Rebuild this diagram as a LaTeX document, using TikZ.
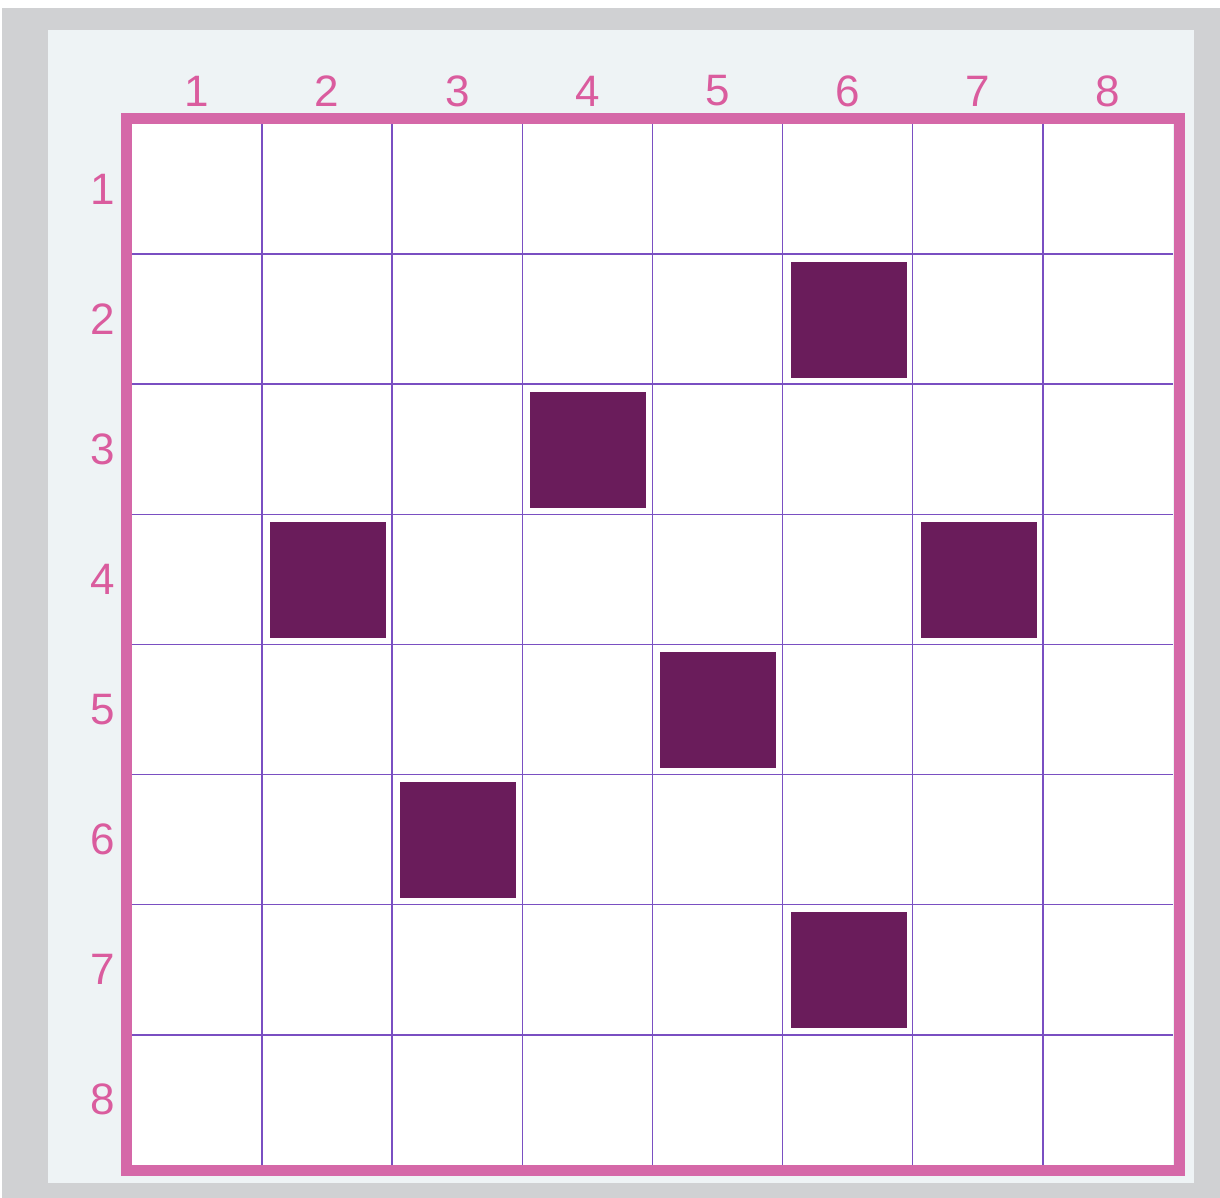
\documentclass[tikz,border=0pt]{standalone}
\usepackage{fontspec}
\setmainfont{Liberation Sans}
\definecolor{canvasgray}{HTML}{D0D1D3}
\definecolor{panelbg}{HTML}{EEF3F5}
\definecolor{framepink}{HTML}{D568A8}
\definecolor{gridpurple}{HTML}{7A4FC2}
\definecolor{labelpink}{HTML}{DA5C9E}
\definecolor{queen}{HTML}{6A1C5B}
\tikzset{
  lbl/.style={text=labelpink, font=\fontsize{44}{48}\selectfont, inner sep=0pt, anchor=center},
  gridline/.style={draw=gridpurple, line width=1.6pt},
  frame/.style={draw=framepink, line width=11pt},
  piece/.style={fill=queen, draw=none, minimum width=116pt, minimum height=116pt, inner sep=0pt, outer sep=0pt}
}
\begin{document}
\begin{tikzpicture}[x=1pt,y=-1pt]
  % canvas
  \fill[white] (0,0) rectangle (1220,1198);
  \useasboundingbox (0,0) rectangle (1220,1198);
  \fill[canvasgray] (2,8) rectangle (1220,1198);
  \fill[panelbg] (48,30) rectangle (1194,1183);
  % board
  \fill[white] (132,124) rectangle (1173,1165);
  \foreach \i in {1,...,7} {
    \draw[gridline] ({132+\i*130.1},124) -- ({132+\i*130.1},1165);
    \draw[gridline] (132,{124+\i*130.1}) -- (1173,{124+\i*130.1});
  }
  \draw[frame] (126.5,118.5) rectangle (1179.5,1170.5);
  % labels
  \foreach \i in {1,...,8} {
    \node[lbl] (col\i) at ({132+(\i-0.5)*130.1},91) {\i};
    \node[lbl] (row\i) at (103,{124+(\i-0.5)*130.1}) {\i};
  }
  % pieces: (column,row)
  \foreach \c/\r in {6/2,4/3,2/4,7/4,5/5,3/6,6/7} {
    \node[piece] (q\c\r) at ({132+(\c-0.5)*130.1+1},{124+(\r-0.5)*130.1+0.5}) {};
  }
\end{tikzpicture}
\end{document}
